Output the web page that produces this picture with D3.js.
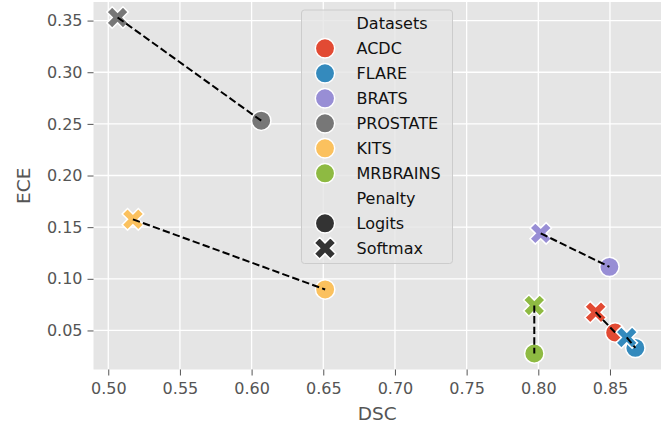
<!DOCTYPE html>
<html>
<head>
<meta charset="utf-8">
<script src="https://cdn.jsdelivr.net/npm/d3@7"></script>
<style>
  body { margin: 0; background: #fff; }
  text { font-family: "DejaVu Sans", sans-serif; }
</style>
</head>
<body>
<svg id="drawing_region"></svg>
<script>
// data
const datasets = ["ACDC", "FLARE", "BRATS", "PROSTATE", "KITS", "MRBRAINS"];
const colors = ["#E24A33", "#348ABD", "#988ED5", "#777777", "#FBC15E", "#8EBA42"];
const dsc_logits  = [0.8536, 0.8677, 0.8496, 0.6067, 0.6513, 0.7972];
const ece_logits  = [0.0480, 0.0331, 0.1116, 0.2531, 0.0897, 0.0277];
const dsc_softmax = [0.8400, 0.8617, 0.8017, 0.5065, 0.5172, 0.7972];
const ece_softmax = [0.0677, 0.0432, 0.1440, 0.3530, 0.1576, 0.0742];
const penalties = ["Logits", "Softmax"];
const xticks = [0.50, 0.55, 0.60, 0.65, 0.70, 0.75, 0.80, 0.85];
const yticks = [0.05, 0.10, 0.15, 0.20, 0.25, 0.30, 0.35];

const width = 667, height = 425;
const plot = {left: 93.5, right: 661, top: 2, bottom: 369.5};

const svg = d3.select("#drawing_region")
    .attr("width", width)
    .attr("height", height);

const xscale = d3.scaleLinear().domain([0.4897, 0.8856]).range([plot.left, plot.right]);
const yscale = d3.scaleLinear().domain([0.0122, 0.368]).range([plot.bottom, plot.top]);

// background
svg.append("rect")
    .attr("x", plot.left).attr("y", plot.top)
    .attr("width", plot.right - plot.left)
    .attr("height", plot.bottom - plot.top)
    .attr("fill", "#E5E5E5");

// grid
const grid = svg.append("g");
grid.selectAll(".vg").data(xticks).enter().append("line")
    .attr("x1", d => xscale(d)).attr("x2", d => xscale(d))
    .attr("y1", plot.top).attr("y2", plot.bottom)
    .attr("stroke", "#fff").attr("stroke-width", 1.3);
grid.selectAll(".hg").data(yticks).enter().append("line")
    .attr("y1", d => yscale(d)).attr("y2", d => yscale(d))
    .attr("x1", plot.left).attr("x2", plot.right)
    .attr("stroke", "#fff").attr("stroke-width", 1.3);

// axes
const xaxis = d3.axisBottom(xscale).tickValues(xticks).tickFormat(d3.format(".2f"))
    .tickSize(6).tickPadding(7);
const yaxis = d3.axisLeft(yscale).tickValues(yticks).tickFormat(d3.format(".2f"))
    .tickSize(6).tickPadding(5);

const xg = svg.append("g").attr("transform", `translate(0,${plot.bottom})`).call(xaxis);
const yg = svg.append("g").attr("transform", `translate(${plot.left},0)`).call(yaxis);
[xg, yg].forEach(g => {
    g.select(".domain").remove();
    g.selectAll(".tick line").attr("stroke", "#555").attr("stroke-width", 1);
    g.selectAll(".tick text").attr("fill", "#555").attr("font-size", 16)
        .attr("font-family", "DejaVu Sans, sans-serif");
});

svg.append("text")
    .attr("x", (plot.left + plot.right) / 2)
    .attr("y", 420)
    .attr("text-anchor", "middle")
    .attr("font-size", 18.5)
    .attr("fill", "#555")
    .text("DSC");
svg.append("text")
    .attr("transform", `translate(29.5,${(plot.top + plot.bottom) / 2}) rotate(-90)`)
    .attr("text-anchor", "middle")
    .attr("font-size", 18.5)
    .attr("fill", "#555")
    .text("ECE");

// marker shapes
const xmark = d3.symbol().type(d3.symbolCross).size(290);
function drawX(g, x, y, fill) {
    g.append("path")
        .attr("d", xmark())
        .attr("transform", `translate(${x},${y}) rotate(45)`)
        .attr("fill", fill)
        .attr("stroke", "#fff")
        .attr("stroke-width", 1.5);
}
function drawO(g, x, y, fill) {
    g.append("circle")
        .attr("cx", x).attr("cy", y).attr("r", 9.7)
        .attr("fill", fill)
        .attr("stroke", "#fff")
        .attr("stroke-width", 1.5);
}

const marks = svg.append("g");
datasets.forEach((d, i) => drawO(marks, xscale(dsc_logits[i]), yscale(ece_logits[i]), colors[i]));
datasets.forEach((d, i) => drawX(marks, xscale(dsc_softmax[i]), yscale(ece_softmax[i]), colors[i]));

// dashed lines between penalties
svg.append("g").selectAll("line").data(datasets).enter().append("line")
    .attr("x1", (d, i) => xscale(dsc_softmax[i]))
    .attr("y1", (d, i) => yscale(ece_softmax[i]))
    .attr("x2", (d, i) => xscale(dsc_logits[i]))
    .attr("y2", (d, i) => yscale(ece_logits[i]))
    .attr("stroke", "#000")
    .attr("stroke-width", 2)
    .attr("stroke-dasharray", "7.4,3.2");

// legend
const legend = svg.append("g").attr("transform", "translate(301.5,10)");
legend.append("rect")
    .attr("width", 151).attr("height", 253.5)
    .attr("rx", 3)
    .attr("fill", "#E5E5E5").attr("fill-opacity", 0.8)
    .attr("stroke", "#CCCCCC").attr("stroke-width", 1);

const entries = [{label: "Datasets", kind: "title"}]
    .concat(datasets.map((d, i) => ({label: d, kind: "o", color: colors[i]})))
    .concat([{label: "Penalty", kind: "title"}])
    .concat(penalties.map((p, i) => ({label: p, kind: i == 0 ? "o" : "x", color: "#333333"})));

entries.forEach((e, i) => {
    const cy = 13.3 + i * 25;
    if (e.kind == "o") drawO(legend, 23.5, cy, e.color);
    if (e.kind == "x") drawX(legend, 23.5, cy, e.color);
    legend.append("text")
        .attr("x", 55)
        .attr("y", cy)
        .attr("dy", "0.36em")
        .attr("font-size", 16)
        .attr("fill", "#111")
        .text(e.label);
});
</script>
</body>
</html>
